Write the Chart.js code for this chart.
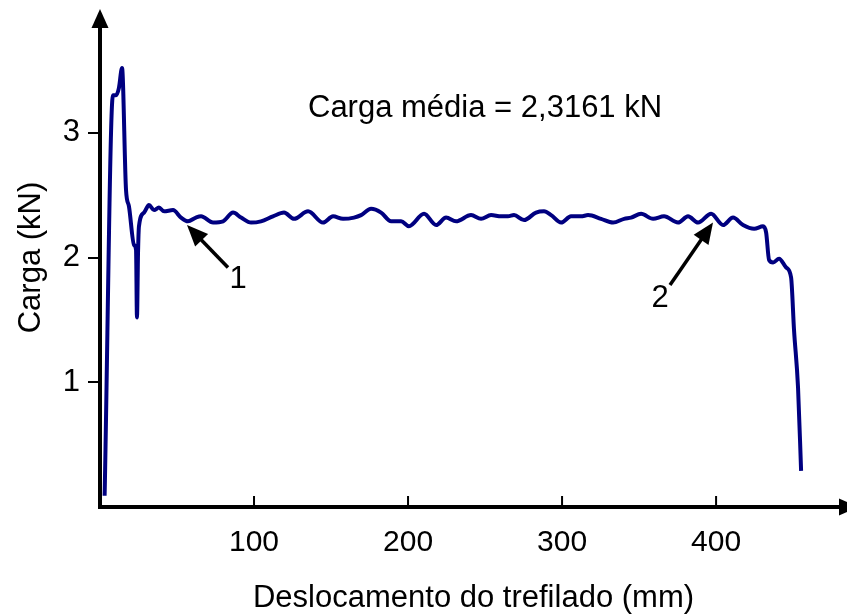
<!DOCTYPE html>
<html>
<head>
<meta charset="utf-8">
<script src="https://cdn.jsdelivr.net/npm/chart.js@4.4.1/dist/chart.umd.min.js"></script>
<style>
  html, body { margin: 0; padding: 0; background: #fff; }
  #wrap { width: 847px; height: 614px; }
</style>
</head>
<body>
<div id="wrap"><canvas id="chart"></canvas></div>
<script>
// deslocamento do trefilado (mm)
const deslocamento = [3, 8.4, 10.4, 12.3, 14.3, 16.9, 18.8, 22.1, 23.4, 24.0, 24.7, 25.3, 28.6, 31.8, 35.1, 38.3, 41.6, 47.4, 52.6, 57.1, 62.3,
  65.6, 73.4, 79.9, 86.4, 91.6, 98.1, 104.5, 112.3, 119.5, 126.0, 135.1, 144.8, 151.3, 157.8, 164.9, 169.5, 176.0, 182.5, 189.0, 195.5,
  200.6, 210.4, 218.2, 224.7, 231.2, 240.9, 247.4, 253.9, 260.4, 264.9, 268.8, 275.3, 283.1, 288.3, 292.9, 299.4, 305.8, 312.3, 316.9,
  325.3, 333.1, 340.3, 344.8, 351.3, 359.1, 366.2, 375.3, 381.8, 388.3, 396.8, 404.5, 411.0, 417.5, 424.7, 430.5, 432.5, 434.4, 437.0,
  440.9, 445.5, 448.7, 450.6, 453.2, 455.2];
// carga (kN)
const carga = [0.09, 3.30, 3.30, 3.36, 3.52, 2.54, 2.41, 2.10, 2.06, 1.52, 2.04, 2.25, 2.36, 2.42, 2.38, 2.40, 2.37, 2.38, 2.32, 2.29, 2.32,
  2.33, 2.28, 2.29, 2.36, 2.32, 2.28, 2.29, 2.33, 2.36, 2.31, 2.37, 2.28, 2.33, 2.31, 2.32, 2.34, 2.39, 2.36, 2.29, 2.29,
  2.25, 2.35, 2.26, 2.32, 2.29, 2.34, 2.31, 2.34, 2.33, 2.33, 2.34, 2.30, 2.36, 2.37, 2.34, 2.28, 2.33, 2.33, 2.34,
  2.31, 2.28, 2.31, 2.32, 2.35, 2.31, 2.33, 2.28, 2.33, 2.28, 2.35, 2.26, 2.32, 2.26, 2.23, 2.25, 2.20, 1.98, 1.96,
  1.99, 1.92, 1.84, 1.42, 0.96, 0.29];

const xTicks = [100, 200, 300, 400];
const yTicks = [1, 2, 3];

const cargaMedia = 'Carga média = 2,3161 kN';
// setas: [ponta x, ponta y, cauda x, cauda y, rótulo x, rótulo y, texto]
const setas = [
  [56.5, 2.26, 83.1, 1.92, 89.6, 1.755, '1'],
  [398, 2.28, 370.1, 1.78, 363.6, 1.603, '2']
];

const FONT = 'Liberation Sans, Arial, sans-serif';

function arrowHead(ctx, x1, y1, x2, y2, len, half) {
  const ang = Math.atan2(y2 - y1, x2 - x1);
  ctx.beginPath();
  ctx.moveTo(x2, y2);
  ctx.lineTo(x2 - len * Math.cos(ang) + half * Math.sin(ang), y2 - len * Math.sin(ang) - half * Math.cos(ang));
  ctx.lineTo(x2 - len * Math.cos(ang) - half * Math.sin(ang), y2 - len * Math.sin(ang) + half * Math.cos(ang));
  ctx.closePath();
  ctx.fill();
}

const decor = {
  id: 'decor',
  afterDraw(chart) {
    const ctx = chart.ctx;
    const a = chart.chartArea;
    const x = chart.scales.x, y = chart.scales.y;
    ctx.save();
    ctx.strokeStyle = '#000';
    ctx.fillStyle = '#000';

    // eixos com setas
    ctx.lineWidth = 4;
    ctx.beginPath();
    ctx.moveTo(a.left, a.bottom + 2);
    ctx.lineTo(a.left, a.top + 14);
    ctx.moveTo(a.left - 2, a.bottom);
    ctx.lineTo(a.right - 8, a.bottom);
    ctx.stroke();
    arrowHead(ctx, a.left, a.bottom, a.left, a.top + 1, 19, 8.5);
    arrowHead(ctx, a.left, a.bottom, a.right + 11, a.bottom, 19, 8.5);

    // marcas do eixo x para dentro
    ctx.lineWidth = 2;
    ctx.beginPath();
    xTicks.forEach(v => {
      const px = x.getPixelForValue(v);
      ctx.moveTo(px, a.bottom);
      ctx.lineTo(px, a.bottom - 11);
    });
    ctx.stroke();

    // setas 1 e 2
    ctx.lineWidth = 3.5;
    ctx.font = '31px ' + FONT;
    ctx.textAlign = 'center';
    ctx.textBaseline = 'alphabetic';
    setas.forEach(s => {
      const tx = x.getPixelForValue(s[0]), ty = y.getPixelForValue(s[1]);
      const cx = x.getPixelForValue(s[2]), cy = y.getPixelForValue(s[3]);
      const ang = Math.atan2(ty - cy, tx - cx);
      ctx.beginPath();
      ctx.moveTo(cx, cy);
      ctx.lineTo(tx - 12 * Math.cos(ang), ty - 12 * Math.sin(ang));
      ctx.stroke();
      arrowHead(ctx, cx, cy, tx, ty, 21, 9);
      ctx.fillText(s[6], x.getPixelForValue(s[4]), y.getPixelForValue(s[5]));
    });

    ctx.fillText(cargaMedia, x.getPixelForValue(250), y.getPixelForValue(3.13));
    ctx.restore();
  }
};

new Chart(document.getElementById('chart'), {
  type: 'line',
  data: {
    datasets: [{
      data: deslocamento.map((d, i) => ({ x: d, y: carga[i] })),
      borderColor: '#000080',
      borderWidth: 4,
      pointRadius: 0,
      fill: false,
      cubicInterpolationMode: 'monotone'
    }]
  },
  options: {
    responsive: true,
    maintainAspectRatio: false,
    animation: false,
    layout: { padding: { top: 8, right: 0, left: 0, bottom: 0 } },
    plugins: { legend: { display: false }, tooltip: { enabled: false } },
    scales: {
      x: {
        type: 'linear',
        min: 0,
        max: 485,
        afterBuildTicks: s => { s.ticks = xTicks.map(v => ({ value: v })); },
        afterFit: s => { s.height = 107; s.paddingLeft = 0; s.paddingRight = 0; },
        grid: { display: false },
        border: { display: false },
        ticks: { color: '#000', font: { family: FONT, size: 30 }, padding: 10, maxRotation: 0 },
        title: {
          display: true,
          text: 'Deslocamento do trefilado (mm)',
          color: '#000',
          font: { family: FONT, size: 31, lineHeight: 1 },
          padding: { top: 0, bottom: 0 }
        }
      },
      y: {
        min: 0,
        max: 4,
        afterBuildTicks: s => { s.ticks = yTicks.map(v => ({ value: v })); },
        afterFit: s => { s.width = 100; s.paddingTop = 0; s.paddingBottom = 0; },
        grid: { drawOnChartArea: false, drawTicks: true, tickLength: 12, color: '#000', lineWidth: 2 },
        border: { display: false },
        ticks: { color: '#000', font: { family: FONT, size: 31 }, padding: 8 },
        title: {
          display: true,
          text: 'Carga (kN)',
          color: '#000',
          font: { family: FONT, size: 31, lineHeight: 1 },
          padding: { top: 16, bottom: 0 }
        }
      }
    }
  },
  plugins: [decor]
});
</script>
</body>
</html>
